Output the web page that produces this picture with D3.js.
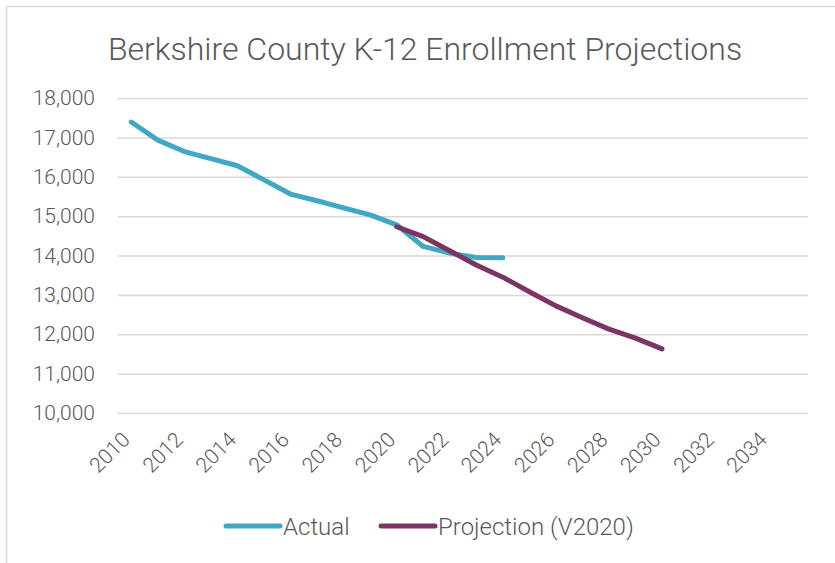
<!DOCTYPE html>
<html lang="en">
<head>
<meta charset="utf-8">
<style>
body {
  margin: 0;
  background: #fff;
  font-family: Roboto, "Open Sans", sans-serif;
}
text {
  fill: #595959;
  font-weight: 300;
}
</style>
</head>
<body>
<script src="https://cdn.jsdelivr.net/npm/d3@7"></script>
<script>

var width = 835,
    height = 563;

// category axis runs 2010..2035, labelled every second year
var years = d3.range(2010, 2036);
var tickYears = d3.range(2010, 2036, 2);

var actualYears = [2010, 2011, 2012, 2013, 2014, 2015, 2016, 2017, 2018, 2019, 2020, 2021, 2022, 2023, 2024];
var actualValues = [17390, 16930, 16640, 16460, 16280, 15920, 15560, 15390, 15210, 15030, 14780, 14230, 14060, 13950, 13940];

var projYears = [2020, 2021, 2022, 2023, 2024, 2025, 2026, 2027, 2028, 2029, 2030];
var projValues = [14730, 14480, 14120, 13760, 13450, 13080, 12720, 12420, 12130, 11900, 11630];

var yTicks = [10000, 11000, 12000, 13000, 14000, 15000, 16000, 17000, 18000];

var seriesNames = ["Actual", "Projection (V2020)"];
var seriesColors = ["#41a8c2", "#7b3563"];

var x = d3.scaleBand()
    .domain(years)
    .range([118, 808]);

var y = d3.scaleLinear()
    .domain([10000, 18000])
    .range([413, 98]);

var fmt = d3.format(",");

var svg = d3.select("body").append("svg")
    .attr("width", width)
    .attr("height", height);

// outer chart border
svg.append("rect")
    .attr("x", 6.5)
    .attr("y", 6.5)
    .attr("width", width)
    .attr("height", height)
    .attr("fill", "none")
    .attr("stroke", "#d9d9d9")
    .attr("stroke-width", 1.5);

svg.append("text")
    .attr("x", 425)
    .attr("y", 60)
    .attr("text-anchor", "middle")
    .style("font-size", "32px")
    .text("Berkshire County K-12 Enrollment Projections");

// gridlines + y labels
var yAxis = d3.axisLeft(y)
    .tickValues(yTicks)
    .tickSize(-(x.range()[1] - x.range()[0]))
    .tickPadding(23)
    .tickFormat(fmt);

var gy = svg.append("g")
    .attr("transform", "translate(118,0)")
    .call(yAxis);
gy.select(".domain").remove();
gy.selectAll(".tick line")
    .attr("stroke", "#d9d9d9")
    .attr("stroke-width", 1.5);
gy.selectAll(".tick text")
    .attr("fill", "#595959")
    .style("font-family", "Roboto, sans-serif")
    .style("font-weight", 300)
    .style("font-size", "21px");

// x labels, rotated
var xAxis = d3.axisBottom(x)
    .tickValues(tickYears)
    .tickSize(0)
    .tickPadding(0);

var gx = svg.append("g")
    .attr("transform", "translate(0,413)")
    .call(xAxis);
gx.select(".domain").remove();
gx.selectAll(".tick text")
    .attr("fill", "#595959")
    .style("font-family", "Roboto, sans-serif")
    .style("font-weight", 300)
    .style("font-size", "21px")
    .attr("text-anchor", "end")
    .attr("dy", null)
    .attr("transform", "translate(0,28) rotate(-45)");

var line = d3.line()
    .x(function(d) { return x(d[0]) + x.bandwidth() / 2; })
    .y(function(d) { return y(d[1]); });

var series = [
    d3.zip(actualYears, actualValues),
    d3.zip(projYears, projValues)
];

svg.selectAll("path.series")
    .data(series)
    .enter().append("path")
    .attr("class", "series")
    .attr("d", line)
    .attr("fill", "none")
    .attr("stroke", function(d, i) { return seriesColors[i]; })
    .attr("stroke-width", 5)
    .attr("stroke-linecap", "round")
    .attr("stroke-linejoin", "round");

// legend
var legendX = [226, 381];
var leg = svg.selectAll("g.legend")
    .data(seriesNames)
    .enter().append("g")
    .attr("class", "legend")
    .attr("transform", function(d, i) { return "translate(" + legendX[i] + ",526)"; });

leg.append("line")
    .attr("x1", 0)
    .attr("x2", 54)
    .attr("stroke", function(d, i) { return seriesColors[i]; })
    .attr("stroke-width", 5)
    .attr("stroke-linecap", "round");

leg.append("text")
    .attr("x", 57)
    .attr("y", 8.5)
    .style("font-size", "24px")
    .text(function(d) { return d; });

</script>
</body>
</html>
